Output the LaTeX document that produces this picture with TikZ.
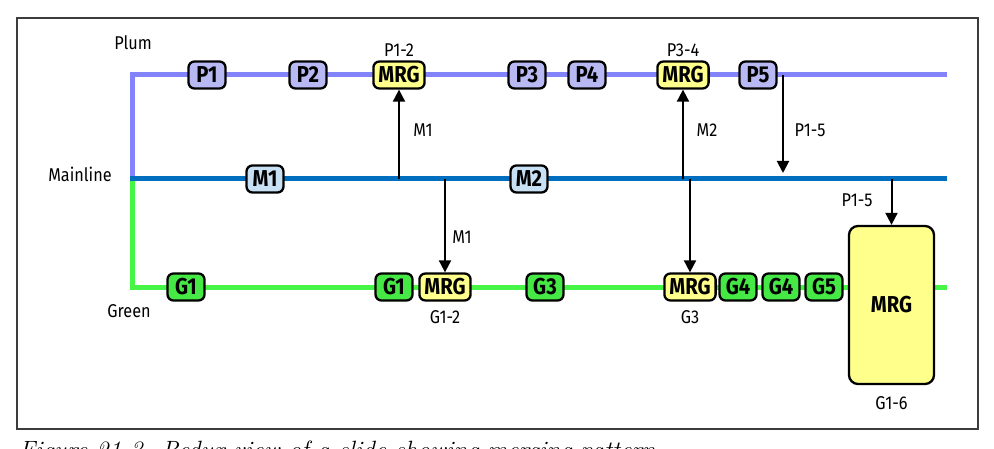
\documentclass[tikz,border=0pt]{standalone}
\usepackage{fontspec}
\setmainfont{Fira Sans}[FakeStretch=0.88]
\newfontfamily\capfont{Latin Modern Roman}
\usetikzlibrary{arrows.meta}
\definecolor{plumline}{RGB}{132,132,250}
\definecolor{plumfill}{RGB}{184,184,242}
\definecolor{mainline}{RGB}{0,110,190}
\definecolor{mainfill}{RGB}{200,224,244}
\definecolor{greenline}{RGB}{70,245,70}
\definecolor{greenfill}{RGB}{70,232,70}
\definecolor{mrgfill}{RGB}{255,255,140}
\definecolor{framegray}{RGB}{60,60,60}
\tikzset{
  pill/.style={draw=black, line width=2.3pt, rounded corners=6pt, minimum height=27pt,
    minimum width=37pt, inner xsep=5pt, inner ysep=0pt, font=\fontsize{23}{23}\selectfont\bfseries},
  ppill/.style={pill, fill=plumfill},
  mpill/.style={pill, fill=mainfill},
  gpill/.style={pill, fill=greenfill},
  ypill/.style={pill, fill=mrgfill},
  lbl/.style={font=\fontsize{18.5}{18.5}\selectfont, inner sep=0pt},
  track/.style={line width=5pt},
  arr/.style={line width=2pt, -{Triangle[width=12pt,length=12pt]}},
}
\begin{document}
\begin{tikzpicture}[x=1pt,y=1pt]
\useasboundingbox (0,0) rectangle (994,448);
\draw[framegray, line width=1.3pt] (17,430) rectangle (978,19);
% tracks
\draw[track, plumline] (947,373) -- (132,373) -- (132,269);
\draw[track, greenline] (132,269) -- (132,161) -- (947,161);
\draw[track, mainline] (130,269) -- (947,269);
% labels of lines
\node[lbl] (lplum) at (133,405) {Plum};
\node[lbl] (lmain) at (80,274) {Mainline};
\node[lbl] (lgreen) at (129,137) {Green};
% plum nodes
\node[ppill] (p1) at (207,373) {P1};
\node[ppill] (p2) at (308,373) {P2};
\node[ypill] (mrg12) at (399,373) {MRG};
\node[ppill] (p3) at (527,373) {P3};
\node[ppill] (p4) at (587,373) {P4};
\node[ypill] (mrg34) at (683,373) {MRG};
\node[ppill] (p5) at (758,373) {P5};
\node[lbl] (l12) at (399,398) {P1-2};
\node[lbl] (l34) at (683,398) {P3-4};
% mainline nodes
\node[mpill] (m1) at (265,269) {M1};
\node[mpill] (m2) at (529,269) {M2};
% green nodes
\node[gpill] (g1a) at (186,161) {G1};
\node[gpill] (g1b) at (394,161) {G1};
\node[ypill] (mrgg12) at (445,161) {MRG};
\node[gpill] (g3) at (545,161) {G3};
\node[ypill] (mrgg3) at (690,161) {MRG};
\node[gpill] (g4a) at (738,161) {G4};
\node[gpill] (g4b) at (781,161) {G4};
\node[gpill] (g5) at (824,161) {G5};
\node[lbl] (lg12) at (445,131) {G1-2};
\node[lbl] (lg3) at (690,131) {G3};
% big merge
\node[draw=black, line width=2.3pt, rounded corners=9pt, fill=mrgfill,
  minimum width=85pt, minimum height=158pt, font=\fontsize{23}{23}\selectfont\bfseries]
  (big) at (891.5,143) {MRG};
\node[lbl] (lg16) at (891.5,45) {G1-6};
% junction coordinates
\coordinate (j1) at (399,269);
\coordinate (j2) at (445,269);
\coordinate (j3) at (683,269);
\coordinate (j4) at (690,269);
\coordinate (j5) at (783,373);
\coordinate (j6) at (783,275);
\coordinate (j7) at (891.5,269);
% arrows
\draw[arr] (j1) -- (mrg12.south);
\draw[arr] (j2) -- (mrgg12.north);
\draw[arr] (j3) -- (mrg34.south);
\draw[arr] (j4) -- (mrgg3.north);
\draw[arr] (j5) -- (j6);
\draw[arr] (j7) -- (big.north);
\node[lbl] (am1) at (423,318) {M1};
\node[lbl] (am1b) at (462,211) {M1};
\node[lbl] (am2) at (707,318) {M2};
\node[lbl] (ap15) at (810,318) {P1-5};
\node[lbl] (ap15b) at (857,248) {P1-5};
% caption (cut off at the page edge)
\node[anchor=base west, inner sep=0pt, font=\capfont\itshape\fontsize{25}{25}\selectfont]
  (cap) at (19,-10) {Figure 21-3. Redux view of a slide showing merging pattern};
\end{tikzpicture}
\end{document}
